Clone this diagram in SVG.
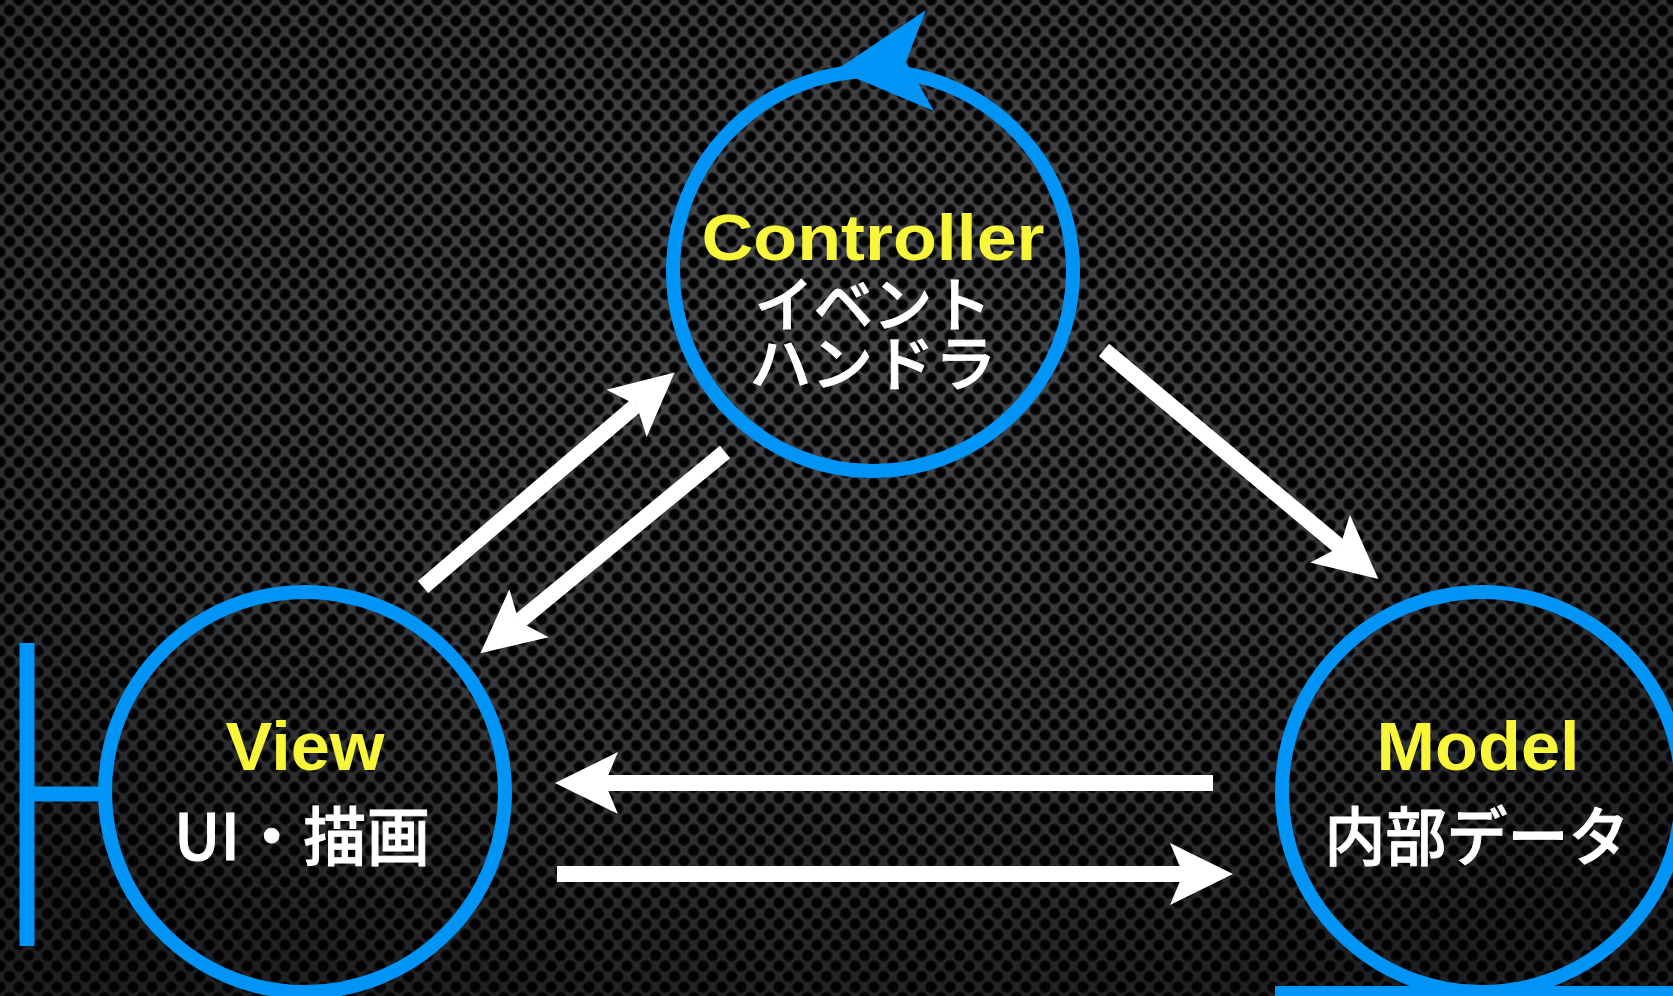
<svg xmlns="http://www.w3.org/2000/svg" width="1673" height="996" viewBox="0 0 1673 996">
  <defs>
    <radialGradient id="hole" cx="0.5" cy="0.5" r="0.5">
      <stop offset="0" stop-color="#000000"/>
      <stop offset="0.6" stop-color="#050505"/>
      <stop offset="1" stop-color="#1c1d1f" stop-opacity="0"/>
    </radialGradient>
    <pattern id="perf" patternUnits="userSpaceOnUse" width="19" height="21">
      <circle cx="0" cy="0" r="7.3" fill="url(#hole)"/>
      <circle cx="19" cy="0" r="7.3" fill="url(#hole)"/>
      <circle cx="0" cy="21" r="7.3" fill="url(#hole)"/>
      <circle cx="19" cy="21" r="7.3" fill="url(#hole)"/>
      <circle cx="9.5" cy="10.5" r="7.3" fill="url(#hole)"/>
    </pattern>
    <radialGradient id="vig" cx="0.5" cy="0.3" r="0.75">
      <stop offset="0" stop-color="#000" stop-opacity="0"/>
      <stop offset="0.6" stop-color="#000" stop-opacity="0.22"/>
      <stop offset="1" stop-color="#000" stop-opacity="0.55"/>
    </radialGradient>
    <marker id="ah" markerUnits="userSpaceOnUse" viewBox="-15 -33 68 66" refX="0" refY="0" markerWidth="68" markerHeight="66" orient="auto" overflow="visible">
      <path d="M50,0 L-13,-31 L0,0 L-13,31 Z" fill="#ffffff"/>
    </marker>
    <style>
      .node { fill: none; stroke: #0094f6; stroke-width: 14; }
      .blue { stroke: #0094f6; stroke-width: 15; fill: none; }
      .conn { stroke: #ffffff; stroke-width: 16; fill: none; marker-end: url(#ah); }
      .title { fill: #f8f63a; font-family: "Liberation Sans", "Noto Sans", sans-serif; font-weight: 700; text-anchor: middle; }
      .sub { fill: #ffffff; stroke: #ffffff; stroke-width: 0.9; font-family: "Noto Sans CJK JP", "Noto Sans", sans-serif; font-weight: 500; text-anchor: middle; }
    </style>
  </defs>

  <rect x="0" y="0" width="1673" height="996" fill="#46484b"/>
  <rect x="0" y="0" width="1673" height="996" fill="url(#perf)"/>
  <rect x="0" y="0" width="1673" height="996" fill="url(#vig)"/>

  <g id="controller">
    <circle class="node" cx="873" cy="271" r="200"/>
    <polygon points="836,70 926,10 906,62 934,111" fill="#0094f6"/>
    <text class="title" x="873" y="260" font-size="64" textLength="343" lengthAdjust="spacingAndGlyphs">Controller</text>
    <text class="sub" x="873" y="327" font-size="60" textLength="237" lengthAdjust="spacingAndGlyphs">イベント</text>
    <text class="sub" x="873" y="386" font-size="60" textLength="247" lengthAdjust="spacingAndGlyphs">ハンドラ</text>
  </g>

  <g id="view">
    <circle class="node" cx="305" cy="792" r="200"/>
    <line class="blue" x1="27" y1="643" x2="27" y2="946"/>
    <line class="blue" x1="27" y1="794" x2="102" y2="794"/>
    <text class="title" x="305" y="770" font-size="68" textLength="159" lengthAdjust="spacingAndGlyphs">View</text>
    <text class="sub" x="302" y="860" font-size="64" textLength="256" lengthAdjust="spacingAndGlyphs">UI・描画</text>
  </g>

  <g id="model">
    <circle class="node" cx="1482" cy="792" r="200"/>
    <rect x="1275" y="986" width="398" height="15" fill="#0094f6"/>
    <text class="title" x="1478" y="770" font-size="68" textLength="203" lengthAdjust="spacingAndGlyphs">Model</text>
    <text class="sub" x="1477" y="860" font-size="64" textLength="305" lengthAdjust="spacingAndGlyphs">内部データ</text>
  </g>

  <g id="connectors">
    <path class="conn" d="M423,587 L636.5,405"/>
    <path class="conn" d="M725,452 L519,621.5"/>
    <path class="conn" d="M1104,350 L1340,547"/>
    <path class="conn" d="M1213,783 L605,783"/>
    <path class="conn" d="M557,874 L1183,874"/>
  </g>
</svg>
